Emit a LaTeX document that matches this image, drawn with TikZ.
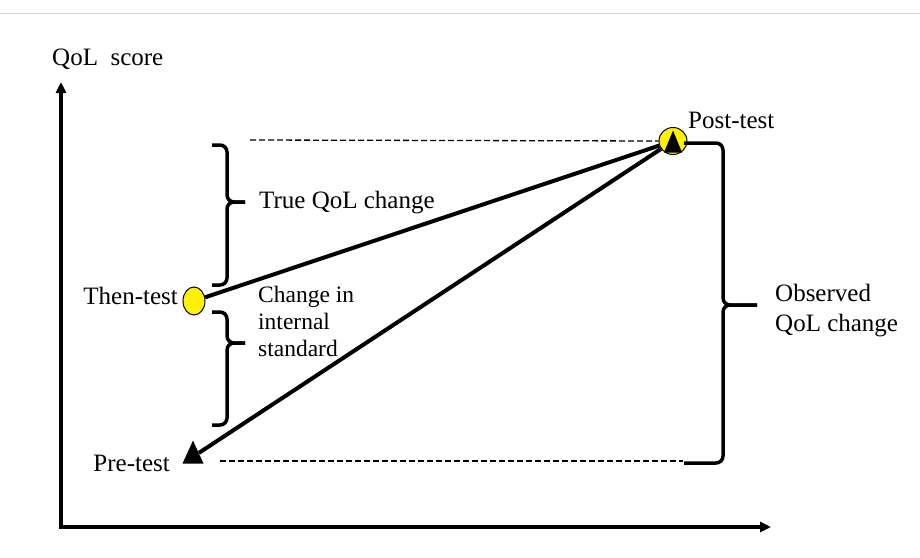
\documentclass[tikz,border=0pt]{standalone}
\usepackage{fontspec}
\setmainfont{Liberation Serif}
\usetikzlibrary{arrows.meta,shapes.geometric}

\begin{document}
\begin{tikzpicture}[
    x=1pt, y=-1pt,
    lbl/.style={font=\fontsize{25}{30}\selectfont, inner sep=0pt, align=left},
    smalllbl/.style={font=\fontsize{23.5}{27}\selectfont, inner sep=0pt, align=left},
    axis/.style={line width=3.2pt, {Triangle[length=11pt,width=10pt]}-{Triangle[length=11pt,width=10pt]}},
    joinline/.style={line width=4pt},
    dashline/.style={line width=1.3pt, dash pattern=on 6pt off 3pt},
    bracket/.style={line width=3.5pt, rounded corners=7pt},
    yellowdot/.style={ellipse, draw, line width=1pt, fill=yellow, inner sep=0pt},
    marker/.style={isosceles triangle, isosceles triangle stretches, shape border rotate=90, fill=black, inner sep=0pt, anchor=apex}
]
    \useasboundingbox (0,0) rectangle (920,557);
    \draw[gray!30, line width=1pt] (0,13) -- (920,13);

    % Axes
    \coordinate (origin) at (61,527);
    \coordinate (ytop) at (61,82);
    \coordinate (xend) at (771,527);
    \draw[axis] (ytop) -- (origin) -- (xend);
    \node[lbl, anchor=base west] (yname) at (52,65) {QoL\ \ score};

    % Measurement points
    \node[yellowdot, minimum width=28pt, minimum height=27pt] (post) at (673,141) {};
    \node[yellowdot, minimum width=22pt, minimum height=28pt] (then) at (194,301) {};
    \node[marker, minimum width=21pt, minimum height=23pt] (pre) at (193,440) {};

    \node[lbl, anchor=base west] (postlbl) at (688,128) {Post-test};
    \node[lbl, anchor=base east] (thenlbl) at (178,304) {Then-test};
    \node[lbl, anchor=base east] (prelbl) at (170,471) {Pre-test};

    % Change lines
    \draw[joinline] (then) -- (post);
    \draw[joinline] (post) -- (pre);
    \node[marker, minimum width=18pt, minimum height=22pt] (postmark) at (673,130) {};

    % Reference levels
    \coordinate (topdash) at (250,140);
    \coordinate (botdash) at (220,461);
    \coordinate (botend) at (683,461);
    \draw[dashline] (topdash) -- (post.west);
    \draw[dashline] (botdash) -- (botend);

    % Observed change brace
    \coordinate (obstop) at (684,143);
    \coordinate (obsmid) at (723,305);
    \coordinate (obstip) at (757,305);
    \coordinate (obsbot) at (684,463);
    \draw[bracket] (obstop) -| (obsmid) -- (obstip);
    \draw[bracket] (obstip) -- (obsmid) |- (obsbot);
    \node[lbl, anchor=north west] (obslbl) at (775,284) {Observed\\QoL change};

    % True change brace
    \coordinate (truetop) at (212,145);
    \coordinate (truemid) at (227,202);
    \coordinate (truetip) at (245,202);
    \coordinate (truebot) at (212,285);
    \draw[bracket] (truetop) -| (truemid) -- (truetip);
    \draw[bracket] (truetip) -- (truemid) |- (truebot);
    \node[lbl, anchor=base west] (truelbl) at (259,208) {True QoL change};

    % Internal standard brace
    \coordinate (inttop) at (212,312);
    \coordinate (intmid) at (227,343);
    \coordinate (inttip) at (245,343);
    \coordinate (intbot) at (212,425);
    \draw[bracket] (inttop) -| (intmid) -- (inttip);
    \draw[bracket] (inttip) -- (intmid) |- (intbot);
    \node[smalllbl, anchor=north west] (intlbl) at (258,286) {Change in\\internal\\standard};
\end{tikzpicture}
\end{document}
